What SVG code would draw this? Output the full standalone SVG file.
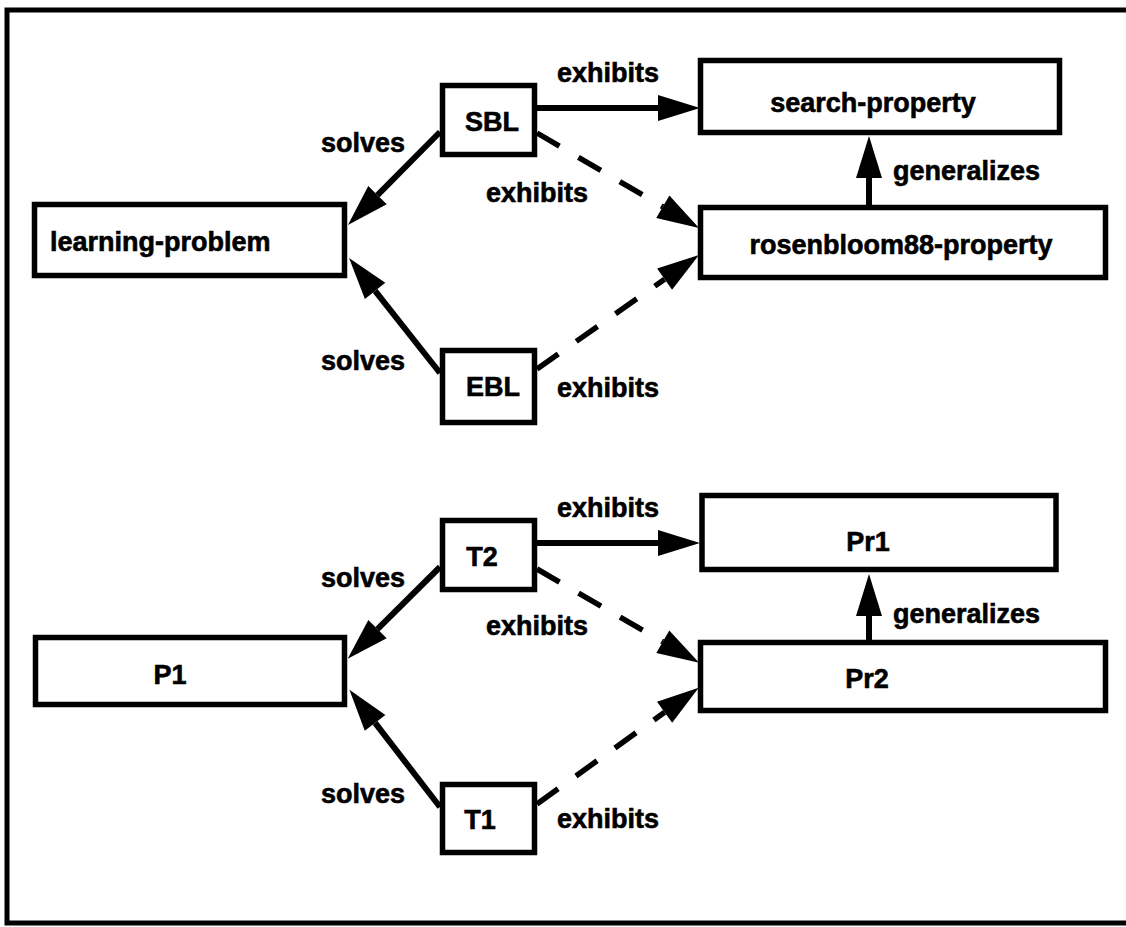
<svg xmlns="http://www.w3.org/2000/svg" width="1126" height="927" viewBox="0 0 1126 927">
  <style>
    .box { fill: #ffffff; stroke: #000000; stroke-width: 5.5; }
    .lbl { font-family: "Liberation Sans", Arial, sans-serif; font-weight: bold; font-size: 27px; fill: #000000; stroke: #000000; stroke-width: 0.6; }
    .mid { text-anchor: middle; }
    .end { text-anchor: end; }
    .edge { fill: none; stroke: #000000; stroke-width: 6; marker-end: url(#head); }
    .dash { stroke-width: 5.5; stroke-dasharray: 26 22; }
    .frame { fill: none; stroke: #000000; stroke-width: 5; }
  </style>
  <defs>
    <!-- solid arrowhead; the line ends at the base, the tip sits 42px further along -->
    <marker id="head" markerUnits="userSpaceOnUse" markerWidth="46" markerHeight="30" refX="0" refY="13" orient="auto" overflow="visible">
      <path d="M0,0 L42,13 L0,26 Z" fill="#000000"/>
    </marker>
  </defs>

  <rect x="0" y="0" width="1126" height="927" fill="#ffffff"/>

  <!-- outer frame (open on the right) -->
  <path class="frame" d="M1126,10 L7,10 L7,923 L1126,923"/>

  <!-- connectors -->
  <g id="connectors">
    <!-- upper network -->
    <line class="edge" x1="537" y1="108" x2="658" y2="108"/>
    <line class="edge" x1="869" y1="205" x2="869" y2="178"/>
    <line class="edge" x1="440" y1="132" x2="377.5" y2="195.1"/>
    <line class="edge" x1="440" y1="373" x2="375.1" y2="290.9"/>
    <line class="edge dash" x1="537" y1="133" x2="662.8" y2="206.8"/>
    <line class="edge dash" x1="537" y1="369" x2="664.6" y2="279.2"/>
    <!-- lower network -->
    <line class="edge" x1="537" y1="543" x2="658" y2="543"/>
    <line class="edge" x1="869" y1="640" x2="869" y2="616"/>
    <line class="edge" x1="440" y1="567" x2="377.5" y2="629.1"/>
    <line class="edge" x1="440" y1="807" x2="375.1" y2="722.9"/>
    <line class="edge dash" x1="537" y1="569" x2="662.8" y2="641.8"/>
    <line class="edge dash" x1="537" y1="804" x2="664.6" y2="712.2"/>
  </g>

  <!-- edge labels -->
  <g id="edge-labels">
    <text class="lbl mid" x="608" y="82">exhibits</text>
    <text class="lbl end" x="405" y="152">solves</text>
    <text class="lbl mid" x="537" y="202">exhibits</text>
    <text class="lbl" x="893" y="180">generalizes</text>
    <text class="lbl end" x="405" y="370">solves</text>
    <text class="lbl mid" x="608" y="397">exhibits</text>

    <text class="lbl mid" x="608" y="517">exhibits</text>
    <text class="lbl end" x="405" y="587">solves</text>
    <text class="lbl mid" x="537" y="635">exhibits</text>
    <text class="lbl" x="893" y="623">generalizes</text>
    <text class="lbl end" x="405" y="803">solves</text>
    <text class="lbl mid" x="608" y="828">exhibits</text>
  </g>

  <!-- upper network nodes -->
  <g id="learning-problem">
    <rect class="box" x="34.5" y="204.5" width="310" height="71"/>
    <text class="lbl" x="50" y="251">learning-problem</text>
  </g>
  <g id="SBL">
    <rect class="box" x="442.5" y="85.5" width="92" height="69"/>
    <text class="lbl mid" x="492" y="131">SBL</text>
  </g>
  <g id="EBL">
    <rect class="box" x="442.5" y="350.5" width="92" height="72"/>
    <text class="lbl mid" x="493" y="396">EBL</text>
  </g>
  <g id="search-property">
    <rect class="box" x="700.5" y="60.5" width="359" height="72"/>
    <text class="lbl mid" x="873" y="112">search-property</text>
  </g>
  <g id="rosenbloom88-property">
    <rect class="box" x="700.5" y="207.5" width="405" height="70"/>
    <text class="lbl mid" x="901" y="254">rosenbloom88-property</text>
  </g>

  <!-- lower network nodes -->
  <g id="P1">
    <rect class="box" x="35.5" y="637.5" width="309" height="67"/>
    <text class="lbl mid" x="170" y="684">P1</text>
  </g>
  <g id="T2">
    <rect class="box" x="442.5" y="520.5" width="92" height="69"/>
    <text class="lbl mid" x="482" y="566">T2</text>
  </g>
  <g id="T1">
    <rect class="box" x="442.5" y="784.5" width="92" height="68"/>
    <text class="lbl mid" x="480" y="829">T1</text>
  </g>
  <g id="Pr1">
    <rect class="box" x="702" y="495.5" width="354" height="74"/>
    <text class="lbl mid" x="868" y="551">Pr1</text>
  </g>
  <g id="Pr2">
    <rect class="box" x="700.5" y="642.5" width="405" height="68"/>
    <text class="lbl mid" x="867" y="688">Pr2</text>
  </g>
</svg>
